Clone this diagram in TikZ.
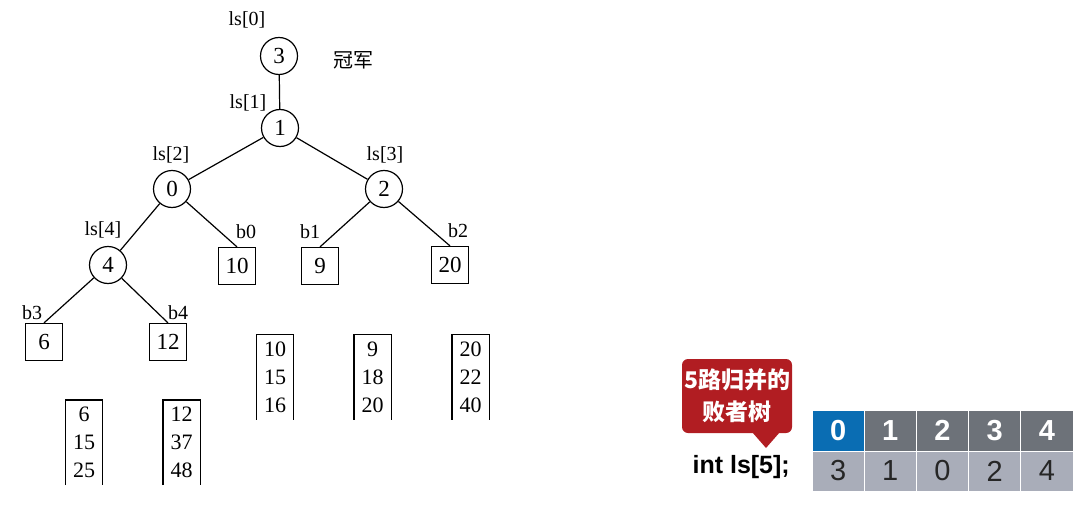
\documentclass[tikz,border=0pt]{standalone}
\usepackage{fontspec}
\setmainfont{Liberation Serif}
\setsansfont{Liberation Sans}
\newfontfamily\cjk{Noto Sans CJK SC}
\definecolor{calloutred}{HTML}{B11D22}
\definecolor{hdrblue}{HTML}{0A6DB3}
\definecolor{hdrgray}{HTML}{6D7279}
\definecolor{valgray}{HTML}{A9ADB9}
\begin{document}
\begin{tikzpicture}[x=1pt,y=-1pt,
  tn/.style={circle,draw,line width=1.2pt,minimum size=37pt,inner sep=0pt,font=\fontsize{23}{23}\selectfont},
  lf/.style={rectangle,draw,line width=1.2pt,minimum size=37pt,inner sep=0pt,font=\fontsize{23}{23}\selectfont},
  lb/.style={inner sep=0pt,font=\fontsize{20}{20}\selectfont},
  ed/.style={line width=1.2pt},
  arr/.style={minimum width=37pt,minimum height=85pt,inner sep=0pt,align=center,font=\fontsize{22}{28}\selectfont},
  arrline/.style={line width=1.4pt},
  hcell/.style={minimum width=52.2pt,minimum height=41pt,inner sep=0pt,draw=white,line width=0.8pt,text=white,font=\sffamily\bfseries\fontsize{29}{29}\selectfont},
  vcell/.style={minimum width=52.2pt,minimum height=40pt,inner sep=0pt,draw=white,line width=0.8pt,fill=valgray,text=black!85,font=\sffamily\fontsize{29}{29}\selectfont}]
\useasboundingbox (0,0) rectangle (1078,508);
% tree internal nodes
\node[tn] (n3) at (279,56) {3};
\node[tn] (n1) at (280,128) {1};
\node[tn] (n0) at (172,189) {0};
\node[tn] (n2) at (384,189) {2};
\node[tn] (n4) at (108,265) {4};
% leaves
\node[lf] (l0) at (237,266) {10};
\node[lf] (l1) at (320,266) {9};
\node[lf] (l2) at (450,265) {20};
\node[lf] (l3) at (44,342) {6};
\node[lf] (l4) at (168,342) {12};
% labels
\node[lb] (t0) at (247,20) {ls[0]};
\node[lb] (t1) at (248,103) {ls[1]};
\node[lb] (t2) at (171,155) {ls[2]};
\node[lb] (t3) at (385,155) {ls[3]};
\node[lb] (t4) at (103,230) {ls[4]};
\node[lb] (c) at (353,60) {\cjk 冠军};
\node[lb] (b0) at (246,232) {b0};
\node[lb] (b1) at (310,232) {b1};
\node[lb] (b2) at (458,231) {b2};
\node[lb] (b3) at (32,313) {b3};
\node[lb] (b4) at (178,313) {b4};
% edges
\draw[ed] (n3) -- (n1);
\draw[ed] (n1) -- (n0);
\draw[ed] (n1) -- (n2);
\draw[ed] (n0) -- (n4);
\draw[ed] (n0) -- (l0.north);
\draw[ed] (n2) -- (l1.north);
\draw[ed] (n2) -- (l2.north);
\draw[ed] (n4) -- (l3.north);
\draw[ed] (n4) -- (l4.north);
% run arrays
\node[arr] (a3) at (84,442.5) {6\\15\\25};
\node[arr] (a4) at (181.5,442.5) {12\\37\\48};
\node[arr] (a0) at (275,377) {10\\15\\16};
\node[arr] (a1) at (372.5,377) {9\\18\\20};
\node[arr] (a2) at (470.5,377) {20\\22\\40};
\foreach \a in {a0,a1,a2,a3,a4}{
  \draw[arrline] (\a.south west) -- (\a.north west) -- (\a.north east) -- (\a.south east);
}
% callout
\fill[calloutred, rounded corners=6pt] (682,359) rectangle (792,433);
\fill[calloutred] (752,432) -- (766,448) -- (780,432) -- cycle;
\node[align=center,text=white,inner sep=0pt,font=\cjk\bfseries\fontsize{23}{32}\selectfont] (ct) at (737,396) {5路归并的\\败者树};
% array label
\node[anchor=east,inner sep=0pt,font=\sffamily\bfseries\fontsize{25}{25}\selectfont] (decl) at (790,467) {int ls[5];};
% table
\node[hcell,fill=hdrblue] (h0) at (838.1,430.5) {0};
\node[hcell,fill=hdrgray] (h1) at (890.3,430.5) {1};
\node[hcell,fill=hdrgray] (h2) at (942.5,430.5) {2};
\node[hcell,fill=hdrgray] (h3) at (994.7,430.5) {3};
\node[hcell,fill=hdrgray] (h4) at (1046.9,430.5) {4};
\node[vcell] (v0) at (838.1,471) {3};
\node[vcell] (v1) at (890.3,471) {1};
\node[vcell] (v2) at (942.5,471) {0};
\node[vcell] (v3) at (994.7,471) {2};
\node[vcell] (v4) at (1046.9,471) {4};
\end{tikzpicture}
\end{document}
